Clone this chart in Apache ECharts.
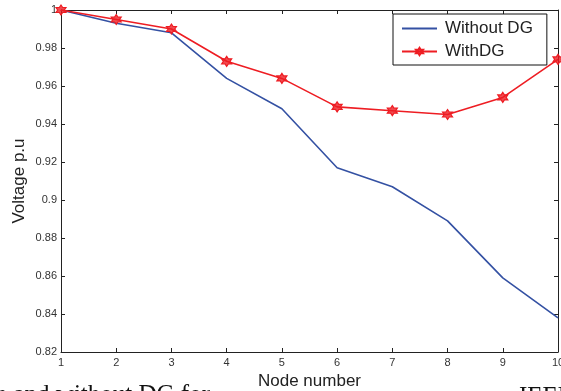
<!DOCTYPE html>
<html>
<head>
<meta charset="utf-8">
<script src="https://cdn.jsdelivr.net/npm/echarts@6/dist/echarts.min.js"></script>
<style>
html,body{margin:0;padding:0;background:#fff;}
#chart{width:561px;height:391px;}
</style>
</head>
<body>
<div id="chart"></div>
<script>
const nodes = ['1','2','3','4','5','6','7','8','9','10'];
const withoutDG = [1, 0.993, 0.988, 0.964, 0.948, 0.917, 0.907, 0.889, 0.859, 0.838];
const withDG = [1, 0.995, 0.990, 0.973, 0.964, 0.949, 0.947, 0.945, 0.954, 0.974];
const yTicks = [0.82, 0.84, 0.86, 0.88, 0.9, 0.92, 0.94, 0.96, 0.98, 1];

// hexagram marker path
let pts = [];
for (let k = 0; k < 12; k++) {
  const a = (-90 + 30 * k) * Math.PI / 180;
  const r = k % 2 === 0 ? 10 : 5.77;
  pts.push((r * Math.cos(a)).toFixed(2) + ',' + (r * Math.sin(a)).toFixed(2));
}
const hexagram = 'path://M' + pts.join('L') + 'Z';

const chart = echarts.init(document.getElementById('chart'));
const axisLine = {show: true, lineStyle: {color: '#222', width: 1}};
const axisTickIn = {show: true, inside: true, length: 4, lineStyle: {color: '#222'}};
const yMin = yTicks[0], yMax = yTicks[yTicks.length - 1], yInt = 0.02;
const sans = 'Liberation Sans, Arial, sans-serif';

chart.setOption({
  animation: false,
  backgroundColor: '#fff',
  grid: {left: 61, right: 3, top: 10, bottom: 39, containLabel: false, outerBoundsMode: 'none'},
  legend: {
    orient: 'vertical',
    left: 393, top: 14,
    padding: [6, 14, 5, 8],
    itemGap: 6,
    itemWidth: 35, itemHeight: 9,
    backgroundColor: '#fff',
    borderColor: '#111', borderWidth: 1,
    textStyle: {fontFamily: sans, fontSize: 17, color: '#222', padding: [0, 0, 0, 3]},
    data: [{name: 'Without DG', itemStyle: {opacity: 0}}, 'WithDG']
  },
  xAxis: [{
    type: 'category', data: nodes, boundaryGap: false,
    axisLine: axisLine, axisTick: axisTickIn,
    axisLabel: {fontFamily: sans, fontSize: 11, color: '#333', margin: 5},
    splitLine: {show: false},
    name: 'Node number', nameLocation: 'middle', nameGap: 21, nameMoveOverlap: false,
    nameTextStyle: {fontFamily: sans, fontSize: 17, color: '#222'}
  }, {
    type: 'category', data: nodes, boundaryGap: false, position: 'top',
    axisLine: axisLine, axisTick: axisTickIn, axisLabel: {show: false}, splitLine: {show: false}
  }],
  yAxis: [{
    type: 'value', min: yMin, max: yMax, interval: yInt,
    axisLine: axisLine, axisTick: axisTickIn,
    axisLabel: {fontFamily: sans, fontSize: 11, color: '#333', margin: 4,
      formatter: v => String(parseFloat(v.toFixed(2)))},
    splitLine: {show: false},
    name: 'Voltage p.u', nameLocation: 'middle', nameGap: 33, nameMoveOverlap: false,
    nameTextStyle: {fontFamily: sans, fontSize: 17, color: '#222'}
  }, {
    type: 'value', min: yMin, max: yMax, interval: yInt, position: 'right',
    axisLine: axisLine, axisTick: axisTickIn, axisLabel: {show: false}, splitLine: {show: false}
  }],
  series: [{
    name: 'Without DG', type: 'line', data: withoutDG,
    symbol: 'none', lineStyle: {color: '#3451a3', width: 1.6}, itemStyle: {color: '#3451a3'}
  }, {
    name: 'WithDG', type: 'line', data: withDG,
    symbol: hexagram, symbolSize: 10,
    lineStyle: {color: '#ee1d23', width: 1.6},
    itemStyle: {color: 'rgba(238,29,35,0.8)', borderColor: '#ee1d23', borderWidth: 1.2}
  }],
  graphic: [{
    type: 'text', right: 351, top: 383,
    style: {text: 'with and without DG for', font: '25px "Liberation Serif", "Times New Roman", serif', fill: '#111'}
  }, {
    type: 'text', left: 519, top: 385,
    style: {text: 'IEEE', font: '25px "Liberation Serif", "Times New Roman", serif', fill: '#111'}
  }]
});
</script>
</body>
</html>
